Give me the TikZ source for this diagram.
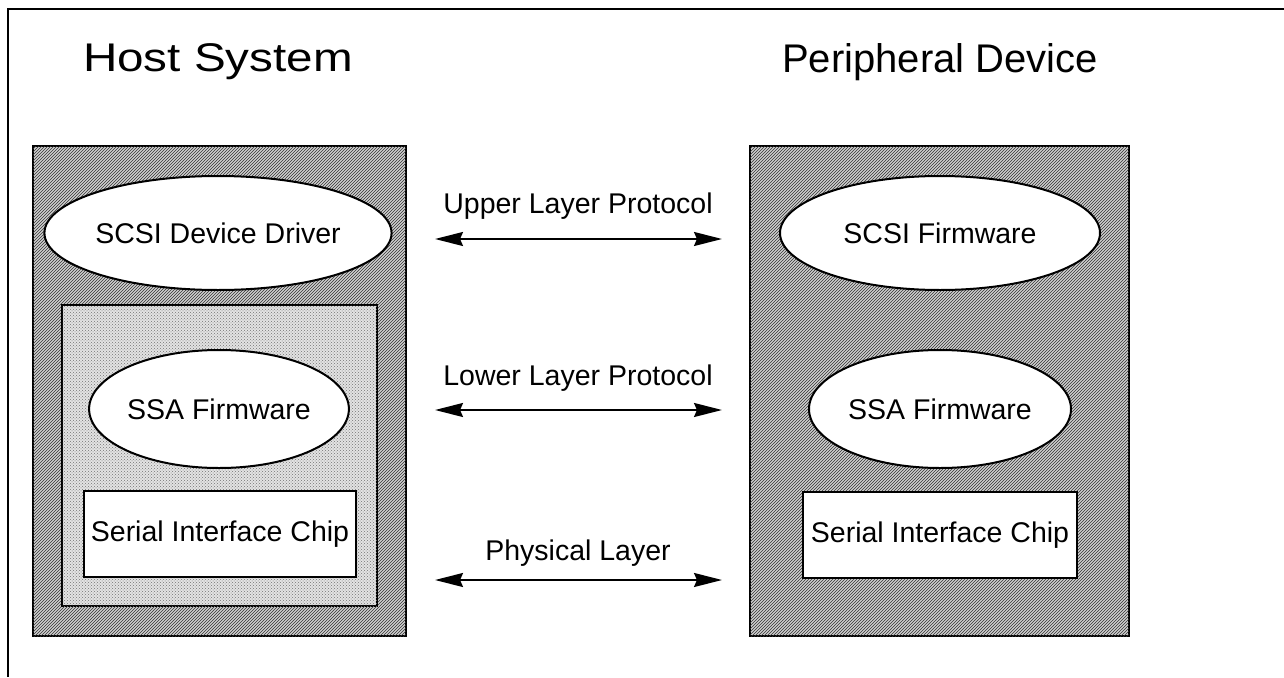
\documentclass[tikz,border=0pt]{standalone}
\usepackage{fontspec}
\setmainfont{Liberation Sans}
\usetikzlibrary{shapes.geometric,patterns,arrows.meta}
\tikzset{
  outerbox/.style={draw, line width=2pt, rectangle, inner sep=0pt,
    fill=gray!38, postaction={pattern=north east lines, pattern color=black!80}},
  innerbox/.style={draw, line width=2pt, rectangle, inner sep=0pt,
    fill=gray!22, postaction={pattern=crosshatch dots, pattern color=black!55}},
  layer/.style={draw, line width=2pt, ellipse, fill=white, inner sep=0pt,
    font=\fontsize{28.5}{34}\selectfont},
  chipbox/.style={draw, line width=2pt, rectangle, fill=white, inner sep=0pt,
    font=\fontsize{28.5}{34}\selectfont},
  title/.style={font=\fontsize{40}{48}\selectfont, inner sep=0pt},
  protolabel/.style={font=\fontsize{28.5}{34}\selectfont, inner sep=0pt},
  proto/.style={line width=2pt, {Stealth[length=28pt,width=14pt,inset=3pt]}-{Stealth[length=28pt,width=14pt,inset=3pt]}}
}
\begin{document}
\begin{tikzpicture}[x=1pt,y=-1pt]
  \useasboundingbox (0,0) rectangle (1284,677);
  % page frame (top and left rules)
  \coordinate (frameTL) at (8,9);
  \coordinate (frameTR) at (1284,9);
  \coordinate (frameBL) at (8,677);
  \draw[line width=2pt] (frameTR) -- (frameTL) -- (frameBL);

  % titles
  \node[title] (hostT) at (218,62) {\scalebox{1.19}[1]{Host System}};
  \node[title] (perT) at (940,62) {Peripheral Device};

  % host side
  \node[outerbox, minimum width=373pt, minimum height=490pt] (host) at (219.5,391) {};
  \node[innerbox, minimum width=315pt, minimum height=301pt] (adapter) at (219.5,455.5) {};
  \node[layer, minimum width=311pt, minimum height=114pt] (hdrv) at (218,233) {SCSI Device Driver};
  \node[layer, minimum width=256pt, minimum height=118pt] (hssa) at (219,409) {SSA Firmware};
  \node[chipbox, minimum width=272pt, minimum height=86pt] (hchip) at (220,534) {Serial Interface Chip};

  % peripheral side
  \node[outerbox, minimum width=379pt, minimum height=490pt] (dev) at (939.5,391) {};
  \node[layer, minimum width=320pt, minimum height=114pt] (dscsi) at (940,233) {SCSI Firmware};
  \node[layer, minimum width=262pt, minimum height=118pt] (dssa) at (940,409) {SSA Firmware};
  \node[chipbox, minimum width=274pt, minimum height=86pt] (dchip) at (940,535) {Serial Interface Chip};

  % protocol arrows
  \coordinate (upL) at (435,239);  \coordinate (upR) at (722,239);
  \coordinate (loL) at (435,410);  \coordinate (loR) at (722,410);
  \coordinate (phL) at (435,580);  \coordinate (phR) at (722,580);
  \draw[proto] (upL) -- (upR);
  \draw[proto] (loL) -- (loR);
  \draw[proto] (phL) -- (phR);
  \node[protolabel] (upT) at (578,206) {Upper Layer Protocol};
  \node[protolabel] (loT) at (578,378) {Lower Layer Protocol};
  \node[protolabel] (phT) at (578,553) {Physical Layer};
\end{tikzpicture}
\end{document}
